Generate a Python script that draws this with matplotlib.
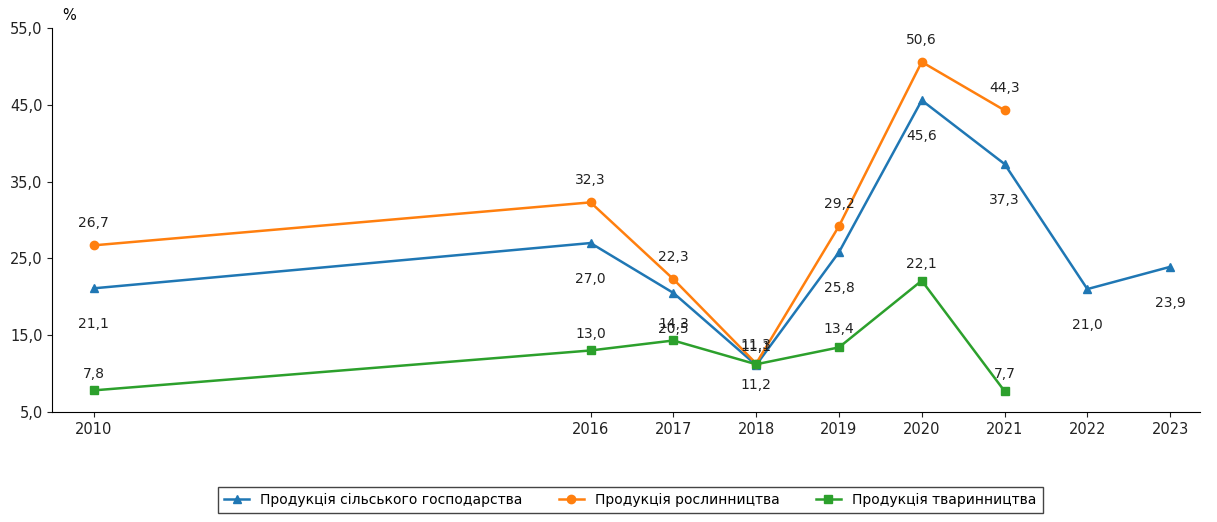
import matplotlib
matplotlib.use("Agg")
import matplotlib.pyplot as plt
from matplotlib.ticker import FuncFormatter

years_all = [2010, 2016, 2017, 2018, 2019, 2020, 2021, 2022, 2023]
agri = [21.1, 27.0, 20.5, 11.1, 25.8, 45.6, 37.3, 21.0, 23.9]

years_part = [2010, 2016, 2017, 2018, 2019, 2020, 2021]
crops = [26.7, 32.3, 22.3, 11.3, 29.2, 50.6, 44.3]
livestock = [7.8, 13.0, 14.3, 11.2, 13.4, 22.1, 7.7]

names = ['Продукція сільського господарства',
         'Продукція рослинництва',
         'Продукція тваринництва']

# зсув підписів у пунктах (вище / нижче точки)
agri_off = [-26, -26, -26, 13, -26, -26, -26, -26, -26]
crops_off = [16, 16, 16, 13, 16, 16, 16]
live_off = [12, 12, 12, -15, 13, 12, 12]


def fmt(v):
    return f'{v:.1f}'.replace('.', ',')


fig = plt.figure(figsize=(12.17, 5.22), dpi=100)
ax = fig.add_axes([0.043, 0.211, 0.943, 0.735])

series = [
    (years_all, agri, '#1f77b4', '^', names[0], agri_off),
    (years_part, crops, '#ff7f0e', 'o', names[1], crops_off),
    (years_part, livestock, '#2ca02c', 's', names[2], live_off),
]
for xs, ys, c, m, lab, offs in series:
    ax.plot(xs, ys, color=c, marker=m, markersize=6, linewidth=1.8, label=lab)
    for x, y, o in zip(xs, ys, offs):
        ax.annotate(fmt(y), (x, y), textcoords='offset points', xytext=(0, o),
                    ha='center', va='center', fontsize=10, color='#222222')

ax.set_xlim(2009.5, 2023.36)
ax.set_ylim(5, 55)
ax.set_xticks(years_all)
ax.set_yticks([5, 15, 25, 35, 45, 55])
ax.yaxis.set_major_formatter(FuncFormatter(lambda v, p: fmt(v)))
ax.tick_params(labelsize=10.5, colors='#222222')
ax.spines['top'].set_visible(False)
ax.spines['right'].set_visible(False)

fig.text(0.051, 0.955, '%', fontsize=10.5, ha='left', va='bottom')

fig.legend(loc='center', bbox_to_anchor=(0.518, 0.042), ncol=3, fontsize=10,
           fancybox=False, edgecolor='#444444', framealpha=1, handlelength=1.8,
           columnspacing=2.6, borderpad=0.45)

fig.savefig('out.png', dpi=100)
